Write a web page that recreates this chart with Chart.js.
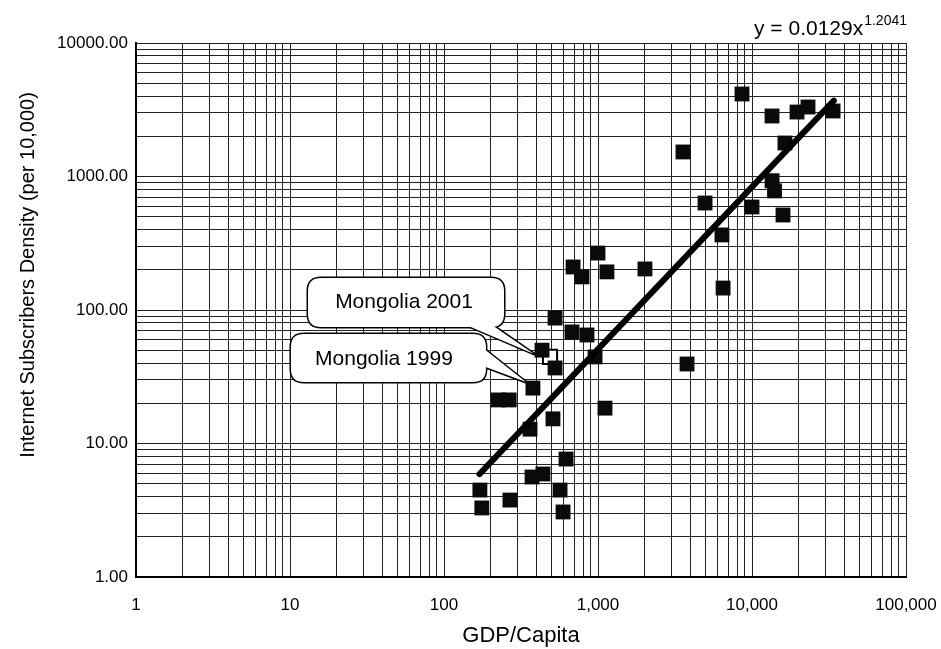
<!DOCTYPE html>
<html>
<head>
<meta charset="utf-8">
<script src="https://cdn.jsdelivr.net/npm/chart.js@4.4.1/dist/chart.umd.min.js"></script>
<style>
  html, body { margin: 0; padding: 0; background: #fff; }
  #wrap { width: 941px; height: 649px; }
</style>
</head>
<body>
<div id="wrap"><canvas id="chart"></canvas></div>
<script>
// ---- data ----
const gdpPerCapita = [171, 176, 268, 373, 439, 567, 593, 620, 362, 510, 1110, 378, 225, 265,
    1000, 689, 787, 1143, 2018, 526, 678, 848, 433, 526, 957,
    8610, 13490, 19600, 23100, 33600, 16370, 3563, 13500, 14000, 4955, 10000, 15900, 6380, 6490, 3785];
const subscribers = [4.48, 3.29, 3.77, 5.61, 5.91, 4.48, 3.07, 7.65, 12.8, 15.3, 18.4, 26, 21.2, 21.2,
    267, 210, 177, 193, 203, 87, 68.5, 65, 50, 36.8, 44.5,
    4150, 2840, 3040, 3315, 3095, 1782, 1527, 930, 780, 633, 591, 515, 365, 146, 39.4];

// Mongolia 2001 (hollow marker)
const mongolia2001 = { x: 488, y: 44.5 };
const mongolia1999 = { x: 378, y: 26 };

// trend line end points (y = 0.0129x^1.2041)
const trendX = [170, 34000];
const trendY = [5.9, 3700];

const xDecades = [1, 10, 100, 1000, 10000, 100000];
const xDecadeLabels = ['1', '10', '100', '1,000', '10,000', '100,000'];
const yDecades = [1, 10, 100, 1000, 10000];
const yDecadeLabels = ['1.00', '10.00', '100.00', '1000.00', '10000.00'];
const minorSteps = [1, 2, 3, 4, 5, 6, 7, 8, 9];

const FONT = '"Liberation Sans", Arial, sans-serif';
const Y_TITLE = 'Internet Subscribers Density (per 10,000)';

function logTicks(decades) {
    const out = [];
    decades.forEach((d, i) => {
        if (i === decades.length - 1) { out.push({ value: d }); return; }
        minorSteps.forEach(m => out.push({ value: d * m }));
    });
    return out;
}

const scatterPoints = gdpPerCapita.map((x, i) => ({ x, y: subscribers[i] }));
const trendPoints = trendX.map((x, i) => ({ x, y: trendY[i] }));

// callouts, equation and y title drawn on top
const calloutPlugin = {
    id: 'callouts',
    afterDatasetsDraw(chart) {
        const { ctx, scales: { x, y }, chartArea } = chart;

        const drawCallout = (target, box, tail, text, tx, ty) => {
            ctx.save();
            ctx.lineWidth = 3;
            ctx.strokeStyle = '#000';
            ctx.fillStyle = '#fff';
            ctx.lineJoin = 'round';
            const r = 13;
            const boxPath = () => {
                ctx.beginPath();
                ctx.moveTo(box.l + r, box.t);
                ctx.lineTo(box.r - r, box.t);
                ctx.quadraticCurveTo(box.r, box.t, box.r, box.t + r);
                ctx.lineTo(box.r, box.b - r);
                ctx.quadraticCurveTo(box.r, box.b, box.r - r, box.b);
                ctx.lineTo(box.l + r, box.b);
                ctx.quadraticCurveTo(box.l, box.b, box.l, box.b - r);
                ctx.lineTo(box.l, box.t + r);
                ctx.quadraticCurveTo(box.l, box.t, box.l + r, box.t);
                ctx.closePath();
            };
            const tailPath = () => {
                ctx.beginPath();
                ctx.moveTo(tail[0][0], tail[0][1]);
                ctx.lineTo(tail[1][0], tail[1][1]);
                ctx.lineTo(target[0], target[1]);
                ctx.closePath();
            };
            boxPath(); ctx.stroke();
            tailPath(); ctx.stroke();
            boxPath(); ctx.fill();
            tailPath(); ctx.fill();
            ctx.fillStyle = '#000';
            ctx.font = '21px ' + FONT;
            ctx.textAlign = 'center';
            ctx.textBaseline = 'middle';
            ctx.fillText(text, tx, ty);
            ctx.restore();
        };

        // Mongolia 2001
        const p1 = [x.getPixelForValue(mongolia2001.x), y.getPixelForValue(mongolia2001.y)];
        drawCallout([p1[0] - 16, p1[1] - 3],
            { l: p1[0] - 242, t: p1[1] - 79, r: p1[0] - 46, b: p1[1] - 30 },
            [[p1[0] - 84, p1[1] - 32], [p1[0] - 58, p1[1] - 32]],
            'Mongolia 2001', p1[0] - 146, p1[1] - 55);

        // Mongolia 1999
        const p2 = [x.getPixelForValue(mongolia1999.x), y.getPixelForValue(mongolia1999.y)];
        drawCallout([p2[0] - 7, p2[1] - 6],
            { l: p2[0] - 242, t: p2[1] - 54, r: p2[0] - 47, b: p2[1] - 6 },
            [[p2[0] - 50, p2[1] - 40], [p2[0] - 50, p2[1] - 22]],
            'Mongolia 1999', p2[0] - 149, p2[1] - 29);

        // trend equation
        ctx.save();
        ctx.fillStyle = '#000';
        ctx.textBaseline = 'alphabetic';
        ctx.font = '14px ' + FONT;
        ctx.textAlign = 'right';
        const sup = '1.2041';
        const supW = ctx.measureText(sup).width;
        ctx.fillText(sup, chartArea.right + 1, 25);
        ctx.font = '21px ' + FONT;
        ctx.fillText('y = 0.0129x', chartArea.right - supW, 35);
        ctx.restore();

        // y axis title
        ctx.save();
        ctx.translate(28, 275);
        ctx.rotate(-Math.PI / 2);
        ctx.fillStyle = '#000';
        ctx.font = '20px ' + FONT;
        ctx.textAlign = 'center';
        ctx.textBaseline = 'middle';
        ctx.fillText(Y_TITLE, 0, 0);
        ctx.restore();
    }
};

new Chart(document.getElementById('chart'), {
    type: 'scatter',
    data: {
        datasets: [
            {
                label: 'trend',
                type: 'line',
                data: trendPoints,
                borderColor: '#000',
                borderWidth: 6,
                borderCapStyle: 'round',
                pointRadius: 0,
                fill: false
            },
            {
                label: 'countries',
                data: scatterPoints,
                pointStyle: 'rect',
                pointRadius: 10.5,
                backgroundColor: '#0a0a0a',
                borderColor: '#0a0a0a',
                borderWidth: 0
            },
            {
                label: 'Mongolia 2001',
                data: [mongolia2001],
                pointStyle: 'rect',
                pointRadius: 10,
                backgroundColor: '#fff',
                borderColor: '#000',
                borderWidth: 2
            }
        ]
    },
    options: {
        responsive: true,
        maintainAspectRatio: false,
        animation: false,
        layout: { padding: { top: 43, right: 35, left: 0, bottom: 0 } },
        plugins: {
            legend: { display: false },
            tooltip: { enabled: false }
        },
        scales: {
            x: {
                type: 'logarithmic',
                min: 1,
                max: 100000,
                afterBuildTicks: (scale) => { scale.ticks = logTicks(xDecades); },
                afterFit: (scale) => {
                    scale.height = 72;
                    scale.paddingLeft = 0;
                    scale.paddingRight = 0;
                },
                ticks: {
                    autoSkip: false,
                    maxRotation: 0,
                    padding: 18,
                    color: '#000',
                    font: { family: FONT, size: 17 },
                    callback: (v) => {
                        const i = xDecades.indexOf(v);
                        return i >= 0 ? xDecadeLabels[i] : '';
                    }
                },
                grid: { color: '#222', lineWidth: 1, drawTicks: false },
                border: { color: '#000', width: 2 },
                title: {
                    display: true,
                    text: 'GDP/Capita',
                    color: '#000',
                    font: { family: FONT, size: 22 },
                    padding: { top: 0, bottom: 0 }
                }
            },
            y: {
                type: 'logarithmic',
                min: 1,
                max: 10000,
                afterBuildTicks: (scale) => { scale.ticks = logTicks(yDecades); },
                afterFit: (scale) => {
                    scale.width = 136;
                    scale.paddingTop = 0;
                    scale.paddingBottom = 0;
                },
                ticks: {
                    autoSkip: false,
                    padding: 8,
                    color: '#000',
                    font: { family: FONT, size: 17 },
                    callback: (v) => {
                        const i = yDecades.indexOf(v);
                        return i >= 0 ? yDecadeLabels[i] : '';
                    }
                },
                grid: { color: '#222', lineWidth: 1, drawTicks: false },
                border: { color: '#000', width: 2 }
            }
        }
    },
    plugins: [calloutPlugin]
});
</script>
</body>
</html>
